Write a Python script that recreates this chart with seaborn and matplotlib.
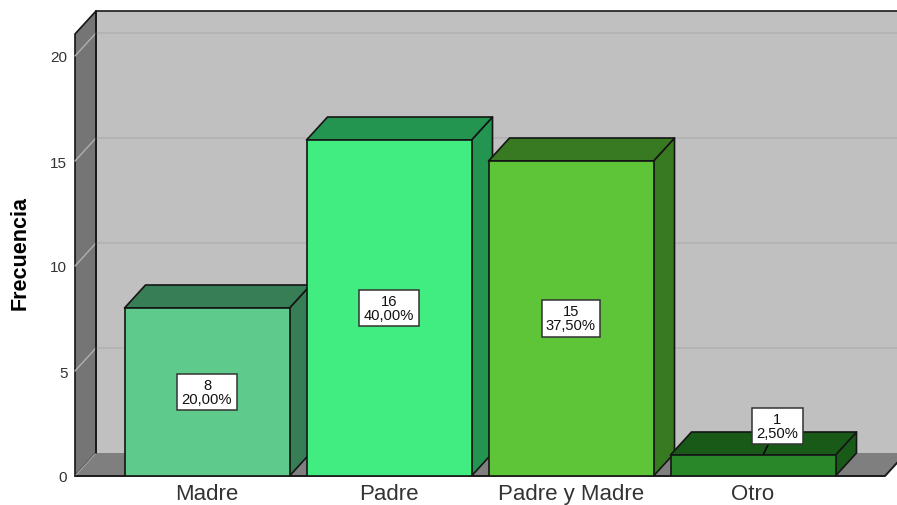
import matplotlib
matplotlib.use('Agg')
import pandas as pd
import seaborn as sns
import matplotlib.pyplot as plt
from matplotlib.patches import Polygon

categorias = ['Madre', 'Padre', 'Padre y Madre', 'Otro']
frecuencias = [8, 16, 15, 1]
porcentajes = ['20,00%', '40,00%', '37,50%', '2,50%']
colores_frente = ['#5ECB8C', '#41EC80', '#5EC438', '#298729']
colores_lado = ['#377D55', '#239550', '#387A22', '#1A5A18']
ticks_y = [0, 5, 10, 15, 20]

W, H = 897, 506
Y_MAX = 442 / 21
# profundidad del efecto 3D, en unidades de los datos
DX = 21 / 182
DY = 23 / 21

sns.set_theme(style='white')
plt.rcParams['font.family'] = ['Liberation Sans', 'DejaVu Sans']

fig = plt.figure(figsize=(W / 100, H / 100), dpi=100)
ax = fig.add_axes([75 / W, (H - 477) / H, 810 / W, 442 / H])

df = pd.DataFrame({'categoria': categorias, 'frecuencia': frecuencias})
sns.barplot(data=df, x='categoria', y='frecuencia', hue='categoria', palette=colores_frente,
            order=categorias, hue_order=categorias, dodge=False, legend=False, width=165 / 182,
            edgecolor='#151515', linewidth=1.2, saturation=1, ax=ax)
ax.set_xlim(-132 / 182, 3 + 132 / 182)
ax.set_ylim(0, Y_MAX)
ax.patch.set_visible(False)


def cara(puntos, color, z, lw=1.2, borde='#151515'):
    ax.add_patch(Polygon(puntos, closed=True, facecolor=color, edgecolor=borde, linewidth=lw,
                         zorder=z, clip_on=False, joinstyle='round'))


x0, x1 = ax.get_xlim()
# paredes y suelo
cara([(x0 + DX, DY), (x1 + DX, DY), (x1 + DX, Y_MAX + DY), (x0 + DX, Y_MAX + DY)], '#C0C0C0', 0.1, lw=0)
ax.plot([x0 + DX, x1 + DX], [Y_MAX + DY, Y_MAX + DY], color='#1A1A1A', lw=1.2, zorder=0.7, clip_on=False)
cara([(x0, 0), (x0 + DX, DY), (x0 + DX, Y_MAX + DY), (x0, Y_MAX)], '#757575', 0.2)
cara([(x0, 0), (x1, 0), (x1 + DX, DY), (x0 + DX, DY)], '#7F7F7F', 0.3, lw=0)
ax.plot([x0, x1, x1 + DX], [0, 0, DY], color='#1A1A1A', lw=1.4, zorder=0.9, clip_on=False)

# rejilla
for t in ticks_y[1:]:
    ax.plot([x0, x0 + DX, x1 + DX], [t, t + DY, t + DY], color='#B0B0B0', lw=1.0,
            zorder=0.5, clip_on=False)
ax.plot([x0, x0 + DX], [0, DY], color='#A9A9A9', lw=0.8, zorder=0.5, clip_on=False)
ax.plot([x0 + DX, x0 + DX], [DY, Y_MAX + DY], color='#1A1A1A', lw=1.2, zorder=0.6, clip_on=False)

# caras laterales y superiores de cada barra
for i, barra in enumerate(ax.patches[:len(categorias)]):
    izq, der = barra.get_x(), barra.get_x() + barra.get_width()
    alto = barra.get_height()
    z = 3 + i
    barra.set_zorder(z + 0.5)
    cara([(der, 0), (der + DX, DY), (der + DX, alto + DY), (der, alto)], colores_lado[i], z)
    cara([(izq, alto), (der, alto), (der + DX, alto + DY), (izq + DX, alto + DY)], colores_lado[i], z)

# etiquetas de valor
for i, (f, p) in enumerate(zip(frecuencias, porcentajes)):
    caja = dict(boxstyle='square,pad=0.3', facecolor='white', edgecolor='#333333', linewidth=1.1)
    if f > 1:
        ax.text(i, f / 2, f'{f}\n{p}', ha='center', va='center', fontsize=10.6, linespacing=1.0,
                color='#111111', bbox=caja, zorder=20)
    else:
        ax.annotate(f'{f}\n{p}', xy=(i + DX / 2, (f + DY) / 2), xytext=(14, 28),
                    textcoords='offset pixels', ha='center', va='center', fontsize=10.6,
                    linespacing=1.0, color='#111111', bbox=caja, zorder=20, annotation_clip=False,
                    arrowprops=dict(arrowstyle='-', color='black', lw=1.1, shrinkA=0, shrinkB=0))

ax.set_yticks(ticks_y)
ax.set_yticklabels([str(t) for t in ticks_y], fontsize=11, color='#333333')
ax.set_xticks(range(len(categorias)))
ax.set_xticklabels(categorias, fontsize=16, color='#333333')
ax.tick_params(axis='y', length=0, pad=5.5)
ax.tick_params(axis='x', length=0, pad=5)
ax.set_xlabel('')
ax.set_ylabel('Frecuencia', fontsize=15.5, fontweight='bold', color='black', labelpad=14, y=0.507)
sns.despine(ax=ax, left=True, bottom=True, top=True, right=True)

fig.savefig('out.png', dpi=100)
